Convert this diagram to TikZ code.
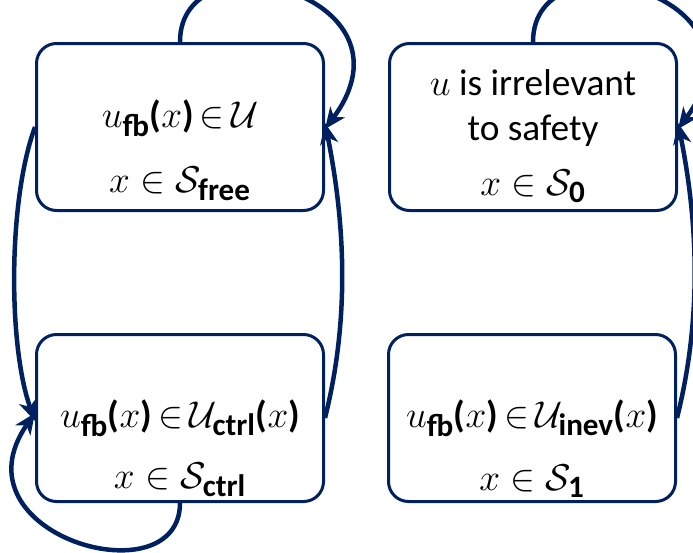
\documentclass[tikz,border=0pt]{standalone}
\usepackage{amsmath}
\usepackage{fontspec}
\setmainfont{Carlito}
\usetikzlibrary{arrows.meta}
\definecolor{navy}{HTML}{002060}
\newcommand{\bsub}[1]{\text{\bfseries #1}}
\newcommand{\lpar}{\text{\bfseries(}}
\newcommand{\rpar}{\text{\bfseries)}}
\begin{document}
\begin{tikzpicture}[x=1pt,y=-1pt,
  statebox/.style={draw=navy, line width=3pt, rounded corners=20pt,
    minimum width=287pt, minimum height=167pt, inner sep=0pt},
  txt/.style={anchor=base, font=\fontsize{24.88}{30}\selectfont, inner sep=0pt, scale=1.5, transform shape},
  conn/.style={draw=navy, line width=4.5pt, -{Stealth[length=21pt,width=18pt,inset=6pt]}}
]
\useasboundingbox (0,0) rectangle (693,552);
% boxes
\node[statebox] (tl) at (180,127) {};
\node[statebox] (tr) at (533,127) {};
\node[statebox] (bl) at (180,418) {};
\node[statebox] (br) at (532,418) {};
% texts
\node[txt] (tl1) at (180,127) {$u_{\bsub{fb}}\lpar x\rpar\,{\in}\,\mathcal{U}$};
\node[txt] (tl2) at (180,192) {$x \in \mathcal{S}_{\bsub{free}}$};
\node[txt] (tr1) at (533,95) {$u$ is irrelevant};
\node[txt] (tr2) at (533,140) {to safety};
\node[txt] (tr3) at (533,195) {$x \in \mathcal{S}_{\bsub{0}}$};
\node[txt] (bl1) at (180,427) {$u_{\bsub{fb}}\lpar x\rpar\,{\in}\,\mathcal{U}_{\bsub{ctrl}}\lpar x\rpar$};
\node[txt] (bl2) at (180,488) {$x \in \mathcal{S}_{\bsub{ctrl}}$};
\node[txt] (br1) at (532,427) {$u_{\bsub{fb}}\lpar x\rpar\,{\in}\,\mathcal{U}_{\bsub{inev}}\lpar x\rpar$};
\node[txt] (br2) at (532,490) {$x \in \mathcal{S}_{\bsub{1}}$};
% connectors
\draw[conn] (tl.north) .. controls +(0,-110) and +(100,-135) .. ([yshift=-2pt]tl.east);
\draw[conn] (bl.east) .. controls +(25,-100) and +(20,100) .. ([yshift=4pt]tl.east);
\draw[conn] (tl.west) .. controls +(-27,73) and +(-27,-75) .. ([yshift=-3pt]bl.west);
\draw[conn] (bl.south) .. controls +(0,97) and +(-85,122) .. ([yshift=5pt]bl.west);
\draw[conn] (tr.north) .. controls +(0,-110) and +(100,-135) .. ([yshift=-2pt]tr.east);
\draw[conn] (br.east) .. controls +(25,-100) and +(20,100) .. ([yshift=4pt]tr.east);
\end{tikzpicture}
\end{document}
